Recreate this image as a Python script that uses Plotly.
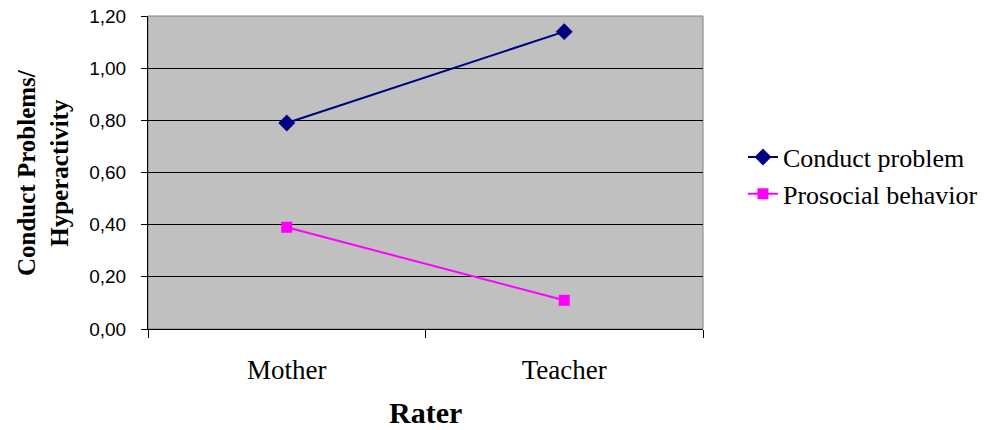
import plotly.graph_objects as go

raters = ["Mother", "Teacher"]
conduct_problem = [0.79, 1.14]
prosocial_behavior = [0.39, 0.11]
y_ticks = [0.0, 0.2, 0.4, 0.6, 0.8, 1.0, 1.2]

fig = go.Figure()
fig.add_trace(go.Scatter(
    x=raters, y=conduct_problem, name="Conduct problem", mode="lines+markers",
    line=dict(color="#000080", width=2),
    marker=dict(symbol="diamond", size=13, color="#000080"),
))
fig.add_trace(go.Scatter(
    x=raters, y=prosocial_behavior, name="Prosocial behavior", mode="lines+markers",
    line=dict(color="#FF00FF", width=2),
    marker=dict(symbol="square", size=11, color="#FF00FF"),
))

fig.update_layout(
    width=984, height=422,
    margin=dict(l=140, r=289, t=8, b=101, autoexpand=False),
    paper_bgcolor="white", plot_bgcolor="#C0C0C0",
    separators=", ",
    showlegend=True,
    legend=dict(x=1.072, y=0.49, xanchor="left", yanchor="middle",
                font=dict(family="Liberation Serif", size=26, color="black"),
                bgcolor="rgba(0,0,0,0)", tracegroupgap=0),
    xaxis=dict(type="category", range=[-0.5, 1.5], tickson="boundaries",
               ticks="outside", ticklen=8, tickcolor="black", tickwidth=1,
               showgrid=False, showline=True, linecolor="black", linewidth=1,
               tickfont=dict(family="Liberation Serif", size=27, color="black"),
               ticklabelstandoff=17, zeroline=False, automargin=False),
    yaxis=dict(range=[0, 1.2], tickvals=y_ticks, tickformat=".2f",
               ticks="outside", ticklen=6, tickcolor="black",
               showgrid=True, gridcolor="black", gridwidth=1,
               showline=True, linecolor="black", linewidth=1,
               tickfont=dict(family="Liberation Sans", size=19, color="black"),
               ticklabelstandoff=11, ticklabeloverflow="allow",
               zeroline=False, automargin=False),
    shapes=[dict(type="rect", xref="paper", yref="paper", x0=0, x1=1, y0=0, y1=1,
                 line=dict(color="#808080", width=1), layer="below")],
    annotations=[
        dict(text="<b>Rater</b>", xref="paper", yref="paper", x=0.5, y=-0.268,
             xanchor="center", yanchor="middle", showarrow=False,
             font=dict(family="Liberation Serif", size=30, color="black")),
        dict(text="<b>Conduct Problems/<br>Hyperactivity</b>", xref="paper", yref="paper",
             x=-0.19, y=0.5, xanchor="center", yanchor="middle", showarrow=False,
             textangle=-90,
             font=dict(family="Liberation Serif", size=25, color="black")),
    ],
)

fig.write_html("out.html")
